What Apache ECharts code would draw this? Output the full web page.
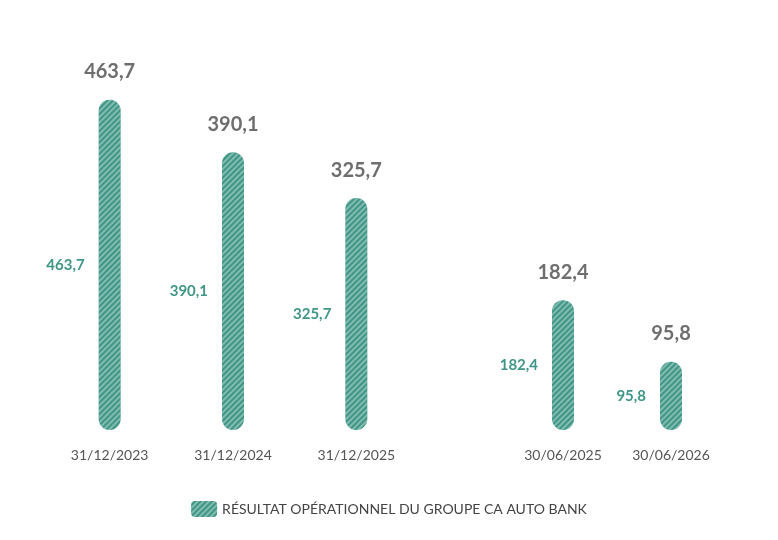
<!DOCTYPE html>
<html><head><meta charset="utf-8">
<script src="https://cdn.jsdelivr.net/npm/echarts@6/dist/echarts.min.js"></script>
<style>html,body{margin:0;background:#fff}#c{width:778px;height:540px}</style>
</head><body><div id="c"></div>
<script>
var yearDates = ['31/12/2023', '31/12/2024', '31/12/2025'];
var yearValues = [463.7, 390.1, 325.7];
var halfDates = ['30/06/2025', '30/06/2026'];
var halfValues = [182.4, 95.8];
var seriesName = 'RÉSULTAT OPÉRATIONNEL DU GROUPE CA AUTO BANK';

var teal = '#3f9686';
var fmt = function (p) { return String(p.value).replace('.', ','); };
var decal = { symbol: 'rect', dashArrayX: [1, 0], dashArrayY: [2, 2], rotation: -Math.PI / 4, color: 'rgba(255,255,255,0.35)' };

function axisX(i, data) {
  return { type: 'category', gridIndex: i, data: data, axisLine: { show: false }, axisTick: { show: false },
    axisLabel: { color: '#555', fontSize: 14, fontFamily: 'Lato', margin: 18 } };
}
function axisY(i) {
  return { type: 'value', gridIndex: i, min: 0, max: 500, show: false, splitLine: { show: false } };
}
function bars(i, data, name) {
  return [{
    name: name, type: 'bar', xAxisIndex: i, yAxisIndex: i, data: data, barWidth: 22,
    itemStyle: { color: teal, borderRadius: 11, decal: decal },
    label: { show: true, position: 'top', distance: 18, formatter: fmt, color: '#6e6e6e', fontSize: 20, fontWeight: 'bold', fontFamily: 'Lato' }
  }, {
    type: 'bar', xAxisIndex: i, yAxisIndex: i, data: data, barWidth: 22, barGap: '-100%', silent: true,
    itemStyle: { color: 'transparent' },
    label: { show: true, position: 'left', distance: 14, formatter: fmt, color: teal, fontSize: 15, fontWeight: 'bold', fontFamily: 'Lato' }
  }];
}

var chart = echarts.init(document.getElementById('c'), null, { renderer: 'canvas' });
chart.setOption({
  animation: false,
  grid: [
    { left: 48, width: 370, top: 74, bottom: 110 },
    { left: 509, width: 216, top: 74, bottom: 110 }
  ],
  xAxis: [axisX(0, yearDates), axisX(1, halfDates)],
  yAxis: [axisY(0), axisY(1)],
  legend: { data: [seriesName], bottom: 18, left: 'center', itemWidth: 26, itemHeight: 16,
    textStyle: { color: '#444', fontSize: 14, fontFamily: 'Lato' } },
  series: bars(0, yearValues, seriesName).concat(bars(1, halfValues, seriesName))
});
</script></body></html>
